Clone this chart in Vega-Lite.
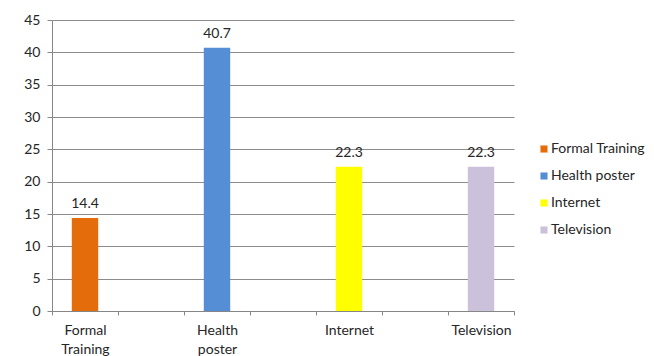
{
  "$schema": "https://vega.github.io/schema/vega-lite/v6.json",
  "width": 462,
  "height": 291,
  "autosize": {"type": "none"},
  "padding": {"left": 52, "top": 20, "right": 140, "bottom": 45},
  "background": "white",
  "config": {"view": {"stroke": null}, "font": "Lato"},
  "data": {
    "values": [
      {"source": "Formal Training", "pct": 14.4},
      {"source": "Health poster", "pct": 40.7},
      {"source": "Internet", "pct": 22.3},
      {"source": "Television", "pct": 22.3}
    ]
  },
  "encoding": {
    "x": {
      "field": "source",
      "type": "nominal",
      "sort": null,
      "scale": {
        "domain": ["Formal Training", "_1", "Health poster", "_2", "Internet", "_3", "Television"],
        "paddingInner": 0,
        "paddingOuter": 0
      },
      "axis": {
        "title": null,
        "tickBand": "extent",
        "labelExpr": "(!isString(datum.value) || substring(datum.value, 0, 1) == '_') ? '' : split(datum.value, ' ')",
        "domainColor": "#868686",
        "tickColor": "#868686",
        "tickSize": 4,
        "labelAngle": 0,
        "labelFontSize": 14,
        "labelColor": "#262626",
        "labelPadding": 8,
        "labelLineHeight": 19,
        "grid": false
      }
    },
    "y": {
      "field": "pct",
      "type": "quantitative",
      "scale": {"domain": [0, 45]},
      "axis": {
        "title": null,
        "values": [0, 5, 10, 15, 20, 25, 30, 35, 40, 45],
        "gridColor": "#8c8c8c",
        "domainColor": "#868686",
        "tickColor": "#868686",
        "tickSize": 5,
        "labelPadding": 7,
        "labelFontSize": 14,
        "labelColor": "#262626"
      }
    }
  },
  "layer": [
    {
      "mark": {"type": "bar", "width": {"band": 0.4}},
      "encoding": {
        "color": {
          "field": "source",
          "type": "nominal",
          "scale": {
            "domain": ["Formal Training", "Health poster", "Internet", "Television"],
            "range": ["#E46C0A", "#558ED5", "#FFFF00", "#CCC1DA"]
          },
          "legend": {
            "title": null,
            "orient": "none",
            "legendX": 485,
            "legendY": 122,
            "symbolType": "square",
            "symbolSize": 50,
            "symbolStrokeWidth": 0,
            "labelOffset": 0,
            "labelFontSize": 14,
            "labelColor": "#262626",
            "rowPadding": 13
          }
        }
      }
    },
    {
      "mark": {"type": "text", "baseline": "bottom", "dy": -7, "fontSize": 14, "color": "#262626"},
      "encoding": {
        "text": {"field": "pct", "type": "quantitative", "format": ".1f"}
      }
    }
  ]
}
